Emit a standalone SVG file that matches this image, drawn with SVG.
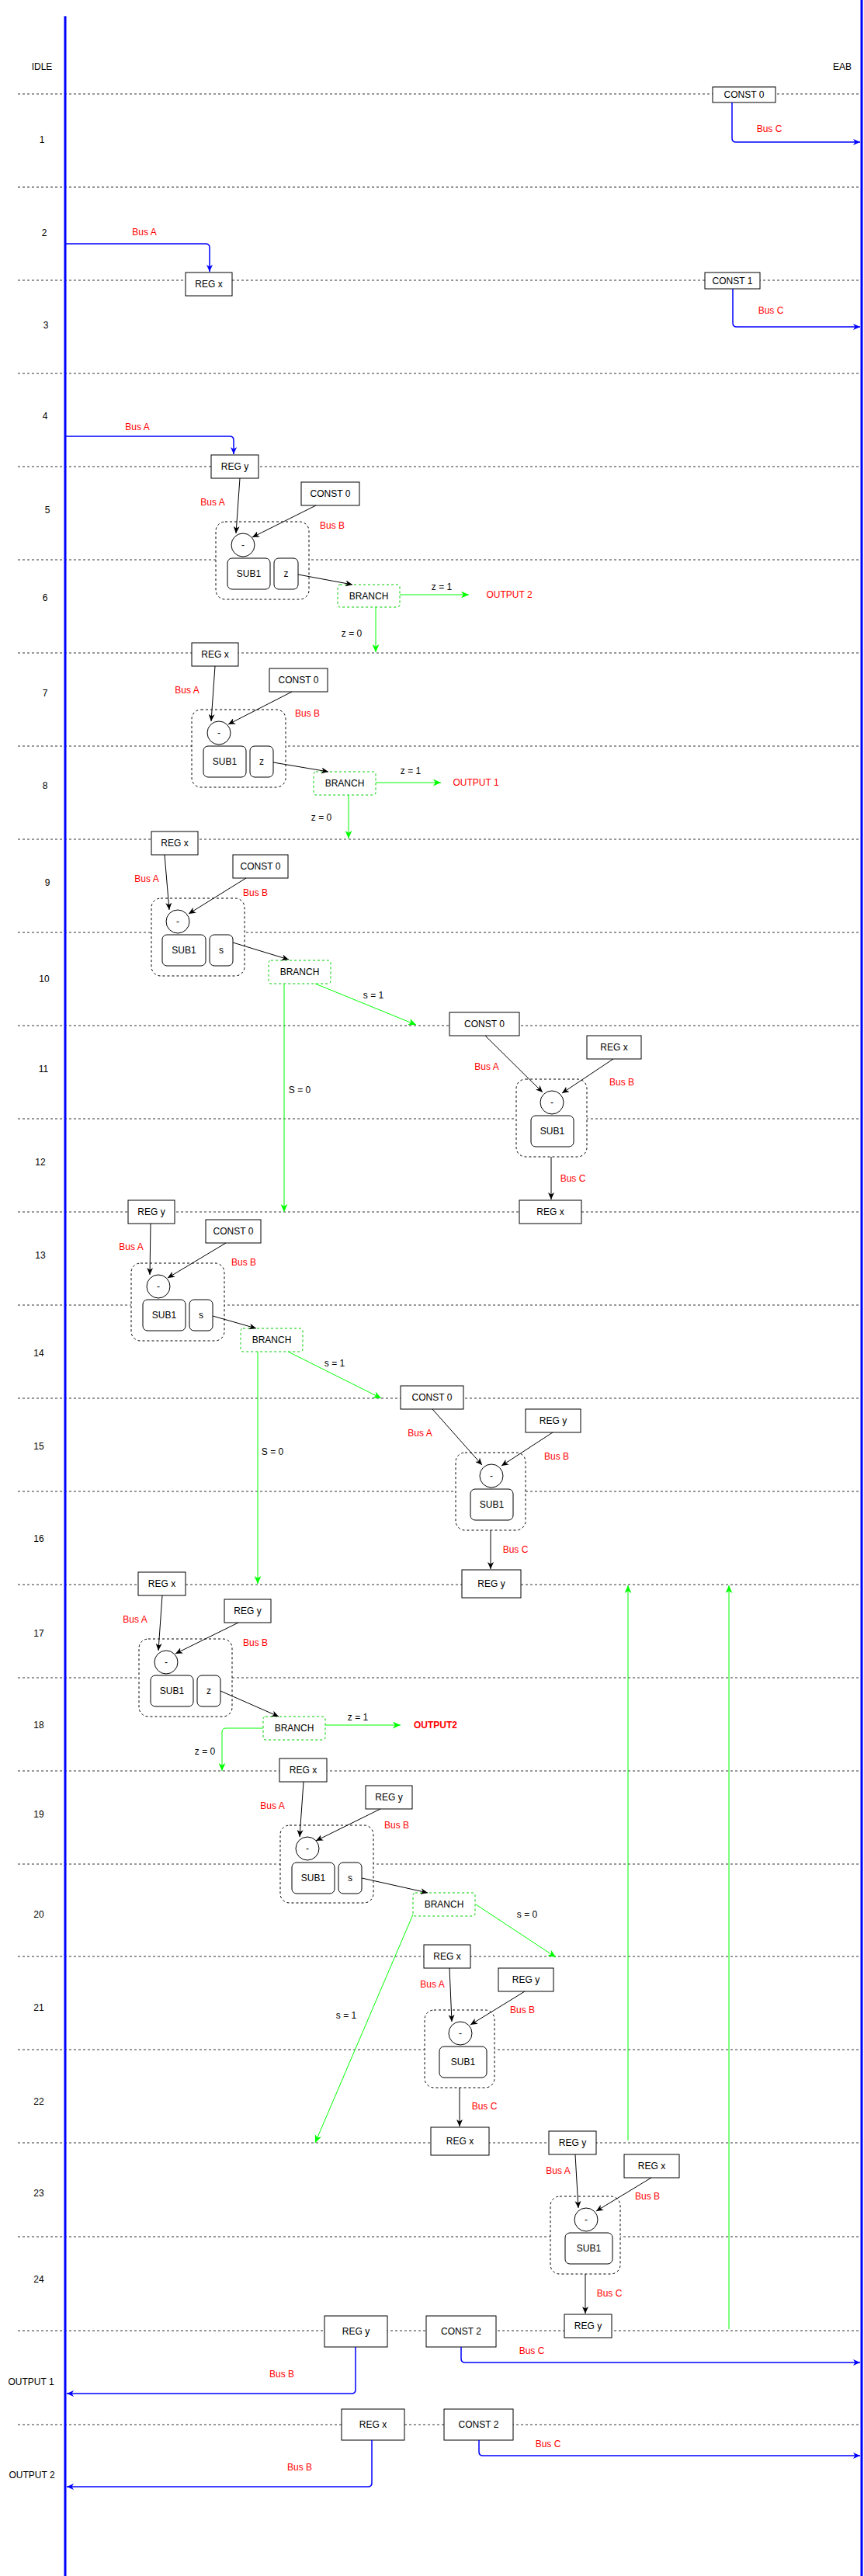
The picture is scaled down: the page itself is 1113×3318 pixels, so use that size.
<svg xmlns="http://www.w3.org/2000/svg" width="1113" height="3318" viewBox="0 0 1113 3318">
<style>
text{font-family:"Liberation Sans",Arial,Helvetica,sans-serif;font-size:12px;fill:#000;text-anchor:middle}
.red{fill:#f00}
.bold{font-weight:bold}
.box{fill:#fff;stroke:#000;stroke-width:1}
.grp{fill:#fff;stroke:#000;stroke-width:1;stroke-dasharray:3 3}
.rr{fill:#fff;stroke:#000;stroke-width:1}
.br{fill:#fff;stroke:#00cc00;stroke-width:1;stroke-dasharray:3 3}
.sep{stroke:#333;stroke-width:1;stroke-dasharray:3 3;fill:none}
.lane{stroke:#0000ff;stroke-width:3;fill:none}
.bus{stroke:#0000ff;stroke-width:1.5;fill:none;marker-end:url(#ab)}
.blk{stroke:#000;stroke-width:1;fill:none;marker-end:url(#ak)}
.grn{stroke:#00ff00;stroke-width:1;fill:none;marker-end:url(#ag)}
</style>
<defs>
<marker id="ak" viewBox="0 0 9 8" refX="9" refY="4" markerWidth="9" markerHeight="8" markerUnits="userSpaceOnUse" orient="auto"><path d="M0,0 L9,4 L0,8 L2.5,4 Z" fill="#000"/></marker>
<marker id="ab" viewBox="0 0 9 8" refX="9" refY="4" markerWidth="9" markerHeight="8" markerUnits="userSpaceOnUse" orient="auto"><path d="M0,0 L9,4 L0,8 L2.5,4 Z" fill="#0000ff"/></marker>
<marker id="ag" viewBox="0 0 9 8" refX="9" refY="4" markerWidth="10" markerHeight="9" markerUnits="userSpaceOnUse" orient="auto"><path d="M0,0 L9,4 L0,8 L2.5,4 Z" fill="#00ff00"/></marker>
</defs>
<rect x="0" y="0" width="1113" height="3318" fill="#fff"/>

<g id="separators">
<path class="sep" d="M23,121H1110M23,241H1110M23,361H1110M23,481H1110M23,601H1110M23,721H1110M23,841H1110M23,961H1110M23,1081H1110M23,1201H1110M23,1321H1110M23,1441H1110M23,1561H1110M23,1681H1110M23,1801H1110M23,1921H1110M23,2041H1110M23,2161H1110M23,2281H1110M23,2401H1110M23,2520H1110M23,2640H1110M23,2760H1110M23,2881H1110M23,3002H1110M23,3123H1110"/>
</g>

<g id="lanes">
<line class="lane" x1="84" y1="21" x2="84" y2="3318"/>
<line class="lane" x1="1110" y1="0" x2="1110" y2="3318"/>
</g>

<g id="row-labels">
<text x="54" y="90">IDLE</text>
<text x="1085" y="90">EAB</text>
<text x="54" y="184">1</text>
<text x="57" y="304">2</text>
<text x="59" y="423">3</text>
<text x="58" y="540">4</text>
<text x="61" y="661">5</text>
<text x="58" y="774">6</text>
<text x="58" y="897">7</text>
<text x="58" y="1016">8</text>
<text x="61" y="1141">9</text>
<text x="57" y="1265">10</text>
<text x="56" y="1381">11</text>
<text x="52" y="1501">12</text>
<text x="52" y="1621">13</text>
<text x="50" y="1747">14</text>
<text x="50" y="1867">15</text>
<text x="50" y="1986">16</text>
<text x="50" y="2108">17</text>
<text x="50" y="2226">18</text>
<text x="50" y="2341">19</text>
<text x="50" y="2470">20</text>
<text x="50" y="2590">21</text>
<text x="50" y="2711">22</text>
<text x="50" y="2829">23</text>
<text x="50" y="2940">24</text>
<text x="40" y="3072">OUTPUT 1</text>
<text x="41" y="3192">OUTPUT 2</text>
</g>

<!-- top nodes -->
<g id="const0-r1"><rect class="box" x="918" y="112" width="81" height="20"/><text x="958.5" y="126">CONST 0</text></g>
<g id="regx-r2"><rect class="box" x="239" y="351" width="60" height="30"/><text x="269" y="370">REG x</text></g>
<g id="const1-r3"><rect class="box" x="908" y="351" width="71" height="21"/><text x="943.5" y="365.5">CONST 1</text></g>
<g id="regy-r4"><rect class="box" x="272" y="586" width="61" height="30"/><text x="302.5" y="605">REG y</text></g>

<!-- cluster A -->
<g id="const0-a"><rect class="box" x="388" y="621" width="75" height="30"/><text x="425.5" y="640">CONST 0</text></g>
<g id="alu-a"><rect class="grp" x="278" y="672" width="120" height="100" rx="12"/><circle class="rr" cx="313" cy="702" r="15"/><text x="313" y="706">-</text><rect class="rr" x="293" y="719" width="55" height="40" rx="6"/><text x="320.5" y="743">SUB1</text><rect class="rr" x="353" y="719" width="31" height="40" rx="6"/><text x="368.5" y="743">z</text></g>
<g id="branch-a"><rect class="br" x="435" y="753" width="80" height="29" rx="3"/><text x="475" y="771.5">BRANCH</text></g>

<!-- cluster B -->
<g id="regx-b"><rect class="box" x="247" y="828" width="60" height="30"/><text x="277" y="847">REG x</text></g>
<g id="const0-b"><rect class="box" x="347" y="861" width="75" height="30"/><text x="384.5" y="880">CONST 0</text></g>
<g id="alu-b"><rect class="grp" x="247" y="914" width="121" height="100" rx="12"/><circle class="rr" cx="282" cy="944" r="15"/><text x="282" y="948">-</text><rect class="rr" x="262" y="961" width="55" height="40" rx="6"/><text x="289.5" y="985">SUB1</text><rect class="rr" x="322" y="961" width="30" height="40" rx="6"/><text x="337" y="985">z</text></g>
<g id="branch-b"><rect class="br" x="404" y="994" width="80" height="30" rx="3"/><text x="444" y="1013">BRANCH</text></g>

<!-- cluster C -->
<g id="regx-c"><rect class="box" x="195" y="1071" width="60" height="30"/><text x="225" y="1090">REG x</text></g>
<g id="const0-c"><rect class="box" x="300" y="1101" width="71" height="30"/><text x="335.5" y="1120">CONST 0</text></g>
<g id="alu-c"><rect class="grp" x="195" y="1157" width="120" height="100" rx="12"/><circle class="rr" cx="229" cy="1187" r="15"/><text x="229" y="1191">-</text><rect class="rr" x="209" y="1204" width="56" height="40" rx="6"/><text x="237" y="1228">SUB1</text><rect class="rr" x="270" y="1204" width="30" height="40" rx="6"/><text x="285" y="1228">s</text></g>
<g id="branch-c"><rect class="br" x="346" y="1237" width="80" height="30" rx="3"/><text x="386" y="1256">BRANCH</text></g>

<!-- cluster D -->
<g id="const0-d"><rect class="box" x="579" y="1304" width="90" height="30"/><text x="624" y="1323">CONST 0</text></g>
<g id="regx-d"><rect class="box" x="756" y="1334" width="70" height="30"/><text x="791" y="1353">REG x</text></g>
<g id="alu-d"><rect class="grp" x="665" y="1390" width="91" height="100" rx="12"/><circle class="rr" cx="711" cy="1420" r="15"/><text x="711" y="1424">-</text><rect class="rr" x="684" y="1437" width="55" height="40" rx="6"/><text x="711.5" y="1461">SUB1</text></g>
<g id="regx-d-out"><rect class="box" x="669" y="1546" width="80" height="30"/><text x="709" y="1565">REG x</text></g>

<!-- cluster E -->
<g id="regy-e"><rect class="box" x="165" y="1546" width="60" height="30"/><text x="195" y="1565">REG y</text></g>
<g id="const0-e"><rect class="box" x="265" y="1571" width="71" height="30"/><text x="300.5" y="1590">CONST 0</text></g>
<g id="alu-e"><rect class="grp" x="169" y="1627" width="120" height="100" rx="12"/><circle class="rr" cx="204" cy="1657" r="15"/><text x="204" y="1661">-</text><rect class="rr" x="184" y="1674" width="55" height="40" rx="6"/><text x="211.5" y="1698">SUB1</text><rect class="rr" x="244" y="1674" width="30" height="40" rx="6"/><text x="259" y="1698">s</text></g>
<g id="branch-e"><rect class="br" x="310" y="1711" width="80" height="30" rx="3"/><text x="350" y="1730">BRANCH</text></g>

<!-- cluster F -->
<g id="const0-f"><rect class="box" x="516" y="1785" width="81" height="30"/><text x="556.5" y="1804">CONST 0</text></g>
<g id="regy-f"><rect class="box" x="677" y="1815" width="71" height="30"/><text x="712.5" y="1834">REG y</text></g>
<g id="alu-f"><rect class="grp" x="587" y="1871" width="90" height="100" rx="12"/><circle class="rr" cx="633" cy="1901" r="15"/><text x="633" y="1905">-</text><rect class="rr" x="606" y="1918" width="55" height="40" rx="6"/><text x="633.5" y="1942">SUB1</text></g>
<g id="regy-f-out"><rect class="box" x="595" y="2022" width="76" height="36"/><text x="633" y="2044">REG y</text></g>

<!-- cluster G -->
<g id="regx-g"><rect class="box" x="178" y="2025" width="61" height="30"/><text x="208.5" y="2044">REG x</text></g>
<g id="regy-g"><rect class="box" x="289" y="2060" width="60" height="30"/><text x="319" y="2079">REG y</text></g>
<g id="alu-g"><rect class="grp" x="179" y="2111" width="120" height="100" rx="12"/><circle class="rr" cx="214" cy="2141" r="15"/><text x="214" y="2145">-</text><rect class="rr" x="194" y="2158" width="55" height="40" rx="6"/><text x="221.5" y="2182">SUB1</text><rect class="rr" x="254" y="2158" width="30" height="40" rx="6"/><text x="269" y="2182">z</text></g>
<g id="branch-g"><rect class="br" x="339" y="2211" width="80" height="30" rx="3"/><text x="379" y="2230">BRANCH</text></g>

<!-- cluster H -->
<g id="regx-h"><rect class="box" x="360" y="2265" width="61" height="30"/><text x="390.5" y="2284">REG x</text></g>
<g id="regy-h"><rect class="box" x="471" y="2300" width="60" height="30"/><text x="501" y="2319">REG y</text></g>
<g id="alu-h"><rect class="grp" x="361" y="2351" width="120" height="100" rx="12"/><circle class="rr" cx="396" cy="2381" r="15"/><text x="396" y="2385">-</text><rect class="rr" x="376" y="2399" width="55" height="40" rx="6"/><text x="403.5" y="2423">SUB1</text><rect class="rr" x="436" y="2399" width="30" height="40" rx="6"/><text x="451" y="2423">s</text></g>
<g id="branch-h"><rect class="br" x="532" y="2438" width="80" height="30" rx="3"/><text x="572" y="2457">BRANCH</text></g>

<!-- cluster I -->
<g id="regx-i"><rect class="box" x="546" y="2505" width="60" height="30"/><text x="576" y="2524">REG x</text></g>
<g id="regy-i"><rect class="box" x="642" y="2535" width="71" height="30"/><text x="677.5" y="2554">REG y</text></g>
<g id="alu-i"><rect class="grp" x="547" y="2589" width="90" height="100" rx="12"/><circle class="rr" cx="593" cy="2619" r="15"/><text x="593" y="2623">-</text><rect class="rr" x="566" y="2636" width="61" height="40" rx="6"/><text x="596.5" y="2660">SUB1</text></g>
<g id="regx-i-out"><rect class="box" x="555" y="2740" width="75" height="36"/><text x="592.5" y="2762">REG x</text></g>

<!-- cluster J -->
<g id="regy-j"><rect class="box" x="707" y="2745" width="61" height="30"/><text x="737.5" y="2764">REG y</text></g>
<g id="regx-j"><rect class="box" x="804" y="2775" width="71" height="30"/><text x="839.5" y="2794">REG x</text></g>
<g id="alu-j"><rect class="grp" x="709" y="2829" width="90" height="100" rx="12"/><circle class="rr" cx="755" cy="2859" r="15"/><text x="755" y="2863">-</text><rect class="rr" x="728" y="2876" width="61" height="40" rx="6"/><text x="758.5" y="2900">SUB1</text></g>
<g id="regy-j-out"><rect class="box" x="727" y="2981" width="61" height="30"/><text x="757.5" y="3000">REG y</text></g>

<!-- outputs -->
<g id="regy-out1"><rect class="box" x="418" y="2983" width="81" height="40"/><text x="458.5" y="3007">REG y</text></g>
<g id="const2-out1"><rect class="box" x="549" y="2983" width="90" height="40"/><text x="594" y="3007">CONST 2</text></g>
<g id="regx-out2"><rect class="box" x="440" y="3103" width="81" height="40"/><text x="480.5" y="3127">REG x</text></g>
<g id="const2-out2"><rect class="box" x="572" y="3103" width="89" height="40"/><text x="616.5" y="3127">CONST 2</text></g>

<g id="connectors">
<path class="bus" d="M943,132V178Q943,183 948,183H1108"/>
<path class="bus" d="M84,314H265Q270,314 270,319V350"/>
<path class="bus" d="M944,372V416Q944,421 949,421H1108"/>
<path class="bus" d="M84,562H296Q301,562 301,567V585"/>
<path class="bus" d="M594,3023V3038Q594,3043 599,3043H1108"/>
<path class="bus" d="M458,3023V3078Q458,3083 453,3083H86"/>
<path class="bus" d="M617,3143V3158Q617,3163 622,3163H1108"/>
<path class="bus" d="M479,3143V3198Q479,3203 474,3203H86"/>
<path class="blk" d="M309,616L304,687"/>
<path class="blk" d="M407,651L325,692"/>
<path class="blk" d="M384,740L454,753"/>
<path class="grn" d="M515,766H604"/>
<path class="grn" d="M484,782V840"/>
<path class="blk" d="M277,858L272,929"/>
<path class="blk" d="M376,891L294,933"/>
<path class="blk" d="M352,982L423,994"/>
<path class="grn" d="M484,1008H568"/>
<path class="grn" d="M449,1024V1080"/>
<path class="blk" d="M212,1101L218,1172"/>
<path class="blk" d="M317,1131L243,1177"/>
<path class="blk" d="M300,1214L372,1236"/>
<path class="grn" d="M406,1267L536,1320"/>
<path class="grn" d="M366,1267V1561"/>
<path class="blk" d="M625,1334L699,1407"/>
<path class="blk" d="M790,1364L724,1408"/>
<path class="blk" d="M710,1490V1545"/>
<path class="blk" d="M194,1576L193,1642"/>
<path class="blk" d="M291,1601L216,1646"/>
<path class="blk" d="M274,1695L330,1711"/>
<path class="grn" d="M371,1741L491,1801"/>
<path class="grn" d="M332,1741V2040"/>
<path class="blk" d="M557,1815L621,1887"/>
<path class="blk" d="M712,1845L646,1888"/>
<path class="blk" d="M632,1971V2021"/>
<path class="grn" d="M809,2757V2042"/>
<path class="grn" d="M939,3000V2042"/>
<path class="blk" d="M209,2055L204,2126"/>
<path class="blk" d="M307,2090L226,2130"/>
<path class="blk" d="M284,2178L359,2211"/>
<path class="grn" d="M419,2222H516"/>
<path class="grn" d="M339,2226H291Q286,2226 286,2231V2281"/>
<path class="blk" d="M391,2295L386,2366"/>
<path class="blk" d="M490,2330L407,2371"/>
<path class="blk" d="M466,2419L551,2438"/>
<path class="grn" d="M613,2453L716,2521"/>
<path class="grn" d="M532,2466L406,2760"/>
<path class="blk" d="M579,2535L582,2604"/>
<path class="blk" d="M676,2565L606,2608"/>
<path class="blk" d="M592,2689V2739"/>
<path class="blk" d="M741,2775L745,2844"/>
<path class="blk" d="M839,2805L768,2848"/>
<path class="blk" d="M754,2929V2980"/>
</g>

<g id="connector-labels">
<text class="red" x="991" y="170">Bus C</text>
<text class="red" x="186" y="303">Bus A</text>
<text class="red" x="993" y="404">Bus C</text>
<text class="red" x="177" y="554">Bus A</text>
<text class="red" x="274" y="651">Bus A</text>
<text class="red" x="428" y="681">Bus B</text>
<text x="569" y="760">z = 1</text>
<text class="red" x="656" y="770">OUTPUT 2</text>
<text x="453" y="820">z = 0</text>
<text class="red" x="241" y="893">Bus A</text>
<text class="red" x="396" y="923">Bus B</text>
<text x="529" y="997">z = 1</text>
<text class="red" x="613" y="1012">OUTPUT 1</text>
<text x="414" y="1057">z = 0</text>
<text class="red" x="189" y="1136">Bus A</text>
<text class="red" x="329" y="1154">Bus B</text>
<text x="481" y="1286">s = 1</text>
<text x="386" y="1408">S = 0</text>
<text class="red" x="627" y="1378">Bus A</text>
<text class="red" x="801" y="1398">Bus B</text>
<text class="red" x="738" y="1522">Bus C</text>
<text class="red" x="169" y="1610">Bus A</text>
<text class="red" x="314" y="1630">Bus B</text>
<text x="431" y="1760">s = 1</text>
<text x="351" y="1874">S = 0</text>
<text class="red" x="541" y="1850">Bus A</text>
<text class="red" x="717" y="1880">Bus B</text>
<text class="red" x="664" y="2000">Bus C</text>
<text class="red" x="174" y="2090">Bus A</text>
<text class="red" x="329" y="2120">Bus B</text>
<text x="461" y="2216">z = 1</text>
<text class="red bold" x="561" y="2226">OUTPUT2</text>
<text x="264" y="2260">z = 0</text>
<text class="red" x="351" y="2330">Bus A</text>
<text class="red" x="511" y="2355">Bus B</text>
<text x="679" y="2470">s = 0</text>
<text x="446" y="2600">s = 1</text>
<text class="red" x="557" y="2560">Bus A</text>
<text class="red" x="673" y="2593">Bus B</text>
<text class="red" x="624" y="2717">Bus C</text>
<text class="red" x="719" y="2800">Bus A</text>
<text class="red" x="834" y="2833">Bus B</text>
<text class="red" x="785" y="2958">Bus C</text>
<text class="red" x="685" y="3032">Bus C</text>
<text class="red" x="363" y="3062">Bus B</text>
<text class="red" x="706" y="3152">Bus C</text>
<text class="red" x="386" y="3182">Bus B</text>
</g>
</svg>
